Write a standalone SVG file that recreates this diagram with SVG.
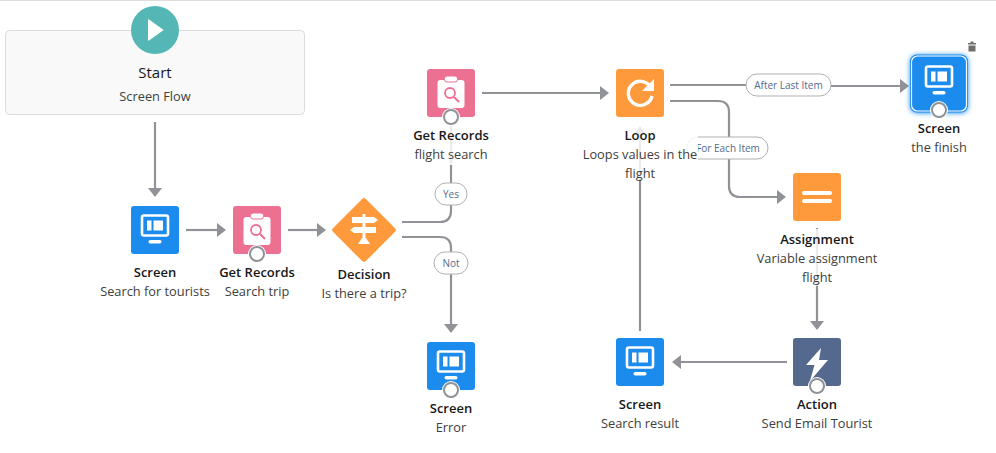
<svg xmlns="http://www.w3.org/2000/svg" width="996" height="453" viewBox="0 0 996 453">
<style>
text{font-family:"Open Sans","Noto Sans","Liberation Sans",sans-serif;text-anchor:middle}
.t{font-size:13px;font-weight:600;fill:#181818}
.s{font-size:12.800px;fill:#3e3e3c}
.p{font-size:10px;fill:#54698d}
.c{fill:none;stroke:#919297;stroke-width:2.200}
.h{fill:#919297}
.pill{fill:#fff;stroke:#b0b0b0;stroke-width:1}
.bg{fill:#fff;fill-opacity:.82}
.ring{fill:#fff;stroke:#919297;stroke-width:2}
.halo{fill:#fff}
</style>
<defs>
<filter id="glow" x="-30%" y="-30%" width="160%" height="160%"><feGaussianBlur stdDeviation="2.500"/></filter>
<marker id="a" markerWidth="10" markerHeight="14" refX="1" refY="7" orient="auto" markerUnits="userSpaceOnUse"><path class="h" d="M0 0L9 7L0 14Z"/></marker>
<g id="scr"><rect x="-13" y="-13.500" width="26" height="20" rx="2" fill="none" stroke="#fff" stroke-width="2.600"/><rect x="-8" y="-8.500" width="4.500" height="10" fill="#fff"/><rect x="-1.500" y="-8.500" width="9.500" height="10" fill="#fff"/><rect x="-6.500" y="11" width="13" height="3.500" rx="1.700" fill="#fff"/></g>
<g id="rec"><rect x="-13.500" y="-14" width="27" height="28" rx="3" fill="#fff"/><rect x="-6.500" y="-18" width="13" height="6" rx="2.500" fill="#fff" stroke="#eb7092" stroke-width="1"/><circle cx="-1" cy="-1" r="5" fill="none" stroke="#eb7092" stroke-width="1.800"/><path d="M3 3L8 8" stroke="#eb7092" stroke-width="2"/></g>
<g id="port"><circle class="halo" r="9"/><circle class="ring" r="7"/></g>
</defs>
<rect width="996" height="453" fill="#fff"/>
<rect width="996" height="1" fill="#ddd"/>
<g id="connectors">
<path class="c" d="M155 122V189" marker-end="url(#a)"/>
<path class="c" d="M186 230H218" marker-end="url(#a)"/>
<path class="c" d="M288 230H318" marker-end="url(#a)"/>
<path class="c" d="M402 222H440Q451 222 451 211V124"/>
<path class="c" d="M402 237H440Q451 237 451 248V325" marker-end="url(#a)"/>
<path class="c" d="M482 93H601" marker-end="url(#a)"/>
<path class="c" d="M670 85H746M831 86H901" marker-end="url(#a)"/>
<path class="c" d="M670 101H718Q729 101 729 112V186Q729 197 740 197H778" marker-end="url(#a)"/>
<path class="c" d="M817 228V322" marker-end="url(#a)"/>
<path class="c" d="M787 362H680" marker-end="url(#a)"/>
<path class="c" d="M640 331V134" marker-end="url(#a)"/>
<g id="edge-yes"><rect class="pill" x="435" y="183" width="32" height="22" rx="11"/><text class="p" x="451" y="198">Yes</text></g>
<g id="edge-not"><rect class="pill" x="434" y="252" width="34" height="22" rx="11"/><text class="p" x="451" y="267">Not</text></g>
<g id="edge-after"><rect class="pill" x="746" y="74" width="85" height="22" rx="11"/><text class="p" x="788.500" y="89">After Last Item</text></g>
<g id="edge-each"><rect class="pill" x="687" y="137" width="81" height="22" rx="11"/><text class="p" x="728" y="152">For Each Item</text></g>
</g>
<g id="start">
<rect x="5.500" y="30.500" width="299" height="84" rx="4" fill="#f9f9f9" stroke="#dddbda"/>
<circle cx="155" cy="30" r="24" fill="#54b7b5"/>
<path d="M149 19.500L163 29.500Q164 30 163 30.500L149 40.500Q148 41 148 40V20Q148 19 149 19.500Z" fill="#fff"/>
<text x="155" y="78" font-size="15" fill="#181818">Start</text>
<text class="s" x="155" y="101">Screen Flow</text>
</g>
<g id="screen-tourists">
<rect class="bg" x="100" y="260" width="110" height="42"/>
<rect x="131" y="206" width="48" height="48" rx="3" fill="#1b8ced"/><use href="#scr" x="155" y="229"/>
<text class="t" x="155" y="277">Screen</text><text class="s" x="155" y="296">Search for tourists</text>
</g>
<g id="records-trip">
<rect x="233" y="206" width="48" height="48" rx="3" fill="#eb7092"/><use href="#rec" x="257" y="231"/>
<use href="#port" x="257" y="254"/>
<text class="t" x="257" y="277">Get Records</text><text class="s" x="257" y="296">Search trip</text>
</g>
<g id="decision">
<rect x="340.700" y="206.700" width="46.600" height="46.600" rx="3" fill="#ff9a3c" transform="rotate(45 364 230)"/>
<path d="M352 217H374L378 220L374 223H352ZM376 227H354L350 230L354 233H376Z" fill="#fff"/><rect x="362.500" y="214" width="3" height="26" fill="#fff"/><path d="M358 244L362 238H366L370 244Z" fill="#fff"/>
<text class="t" x="364" y="279">Decision</text><text class="s" x="364" y="298">Is there a trip?</text>
</g>
<g id="records-flight">
<rect class="bg" x="413" y="122" width="76" height="43"/>
<rect x="427" y="69" width="48" height="48" rx="3" fill="#eb7092"/><use href="#rec" x="451" y="94"/>
<use href="#port" x="451" y="117"/>
<text class="t" x="451" y="140">Get Records</text><text class="s" x="451" y="159">flight search</text>
</g>
<g id="loop">
<rect class="bg" x="583" y="123" width="115" height="58"/>
<rect x="616" y="69" width="48" height="48" rx="3" fill="#ff9a3c"/>
<path d="M650.500 87A12 12 0 1 0 652 96" fill="none" stroke="#fff" stroke-width="3.400"/><path d="M654 79V91H642Z" fill="#fff"/>
<text class="t" x="640" y="140">Loop</text><text class="s" x="640" y="159">Loops values in the</text><text class="s" x="640" y="178">flight</text>
</g>
<g id="screen-finish">
<rect x="910" y="55" width="58" height="58" rx="7" fill="#1b8ced" filter="url(#glow)"/>
<rect x="910" y="54.500" width="58" height="58" rx="7" fill="#1b8ced"/>
<rect x="911.500" y="56" width="55" height="55" rx="6" fill="none" stroke="#fff" stroke-width="1.200"/>
<use href="#scr" x="939" y="80"/>
<use href="#port" x="939" y="110"/>
<text class="t" x="939" y="133">Screen</text><text class="s" x="939" y="152">the finish</text>
<path d="M968 43H976V44.500H968ZM970.500 41.500H973.500V43H970.500ZM968.500 45.500H975.500V51.500H968.500Z" fill="#706e6b"/>
</g>
<g id="assignment">
<rect class="bg" x="756" y="229" width="122" height="57"/>
<rect x="793" y="173" width="48" height="48" rx="3" fill="#ff9a3c"/>
<rect x="802" y="191" width="30" height="4" rx="2" fill="#fff"/><rect x="802" y="199" width="30" height="4" rx="2" fill="#fff"/>
<text class="t" x="817" y="244">Assignment</text><text class="s" x="817" y="263">Variable assignment</text><text class="s" x="817" y="282">flight</text>
</g>
<g id="action">
<rect x="793" y="338" width="48" height="48" rx="3" fill="#54698d"/>
<path d="M821 348L806 365H814.500L810 381L828 360H819Z" fill="#fff"/>
<use href="#port" x="817" y="386"/>
<text class="t" x="817" y="409">Action</text><text class="s" x="817" y="428">Send Email Tourist</text>
</g>
<g id="screen-result">
<rect x="616" y="338" width="48" height="48" rx="3" fill="#1b8ced"/><use href="#scr" x="640" y="361"/>
<text class="t" x="640" y="409">Screen</text><text class="s" x="640" y="428">Search result</text>
</g>
<g id="screen-error">
<rect x="427" y="342" width="48" height="48" rx="3" fill="#1b8ced"/><use href="#scr" x="451" y="365"/>
<use href="#port" x="451" y="390"/>
<text class="t" x="451" y="413">Screen</text><text class="s" x="451" y="432">Error</text>
</g>
</svg>
